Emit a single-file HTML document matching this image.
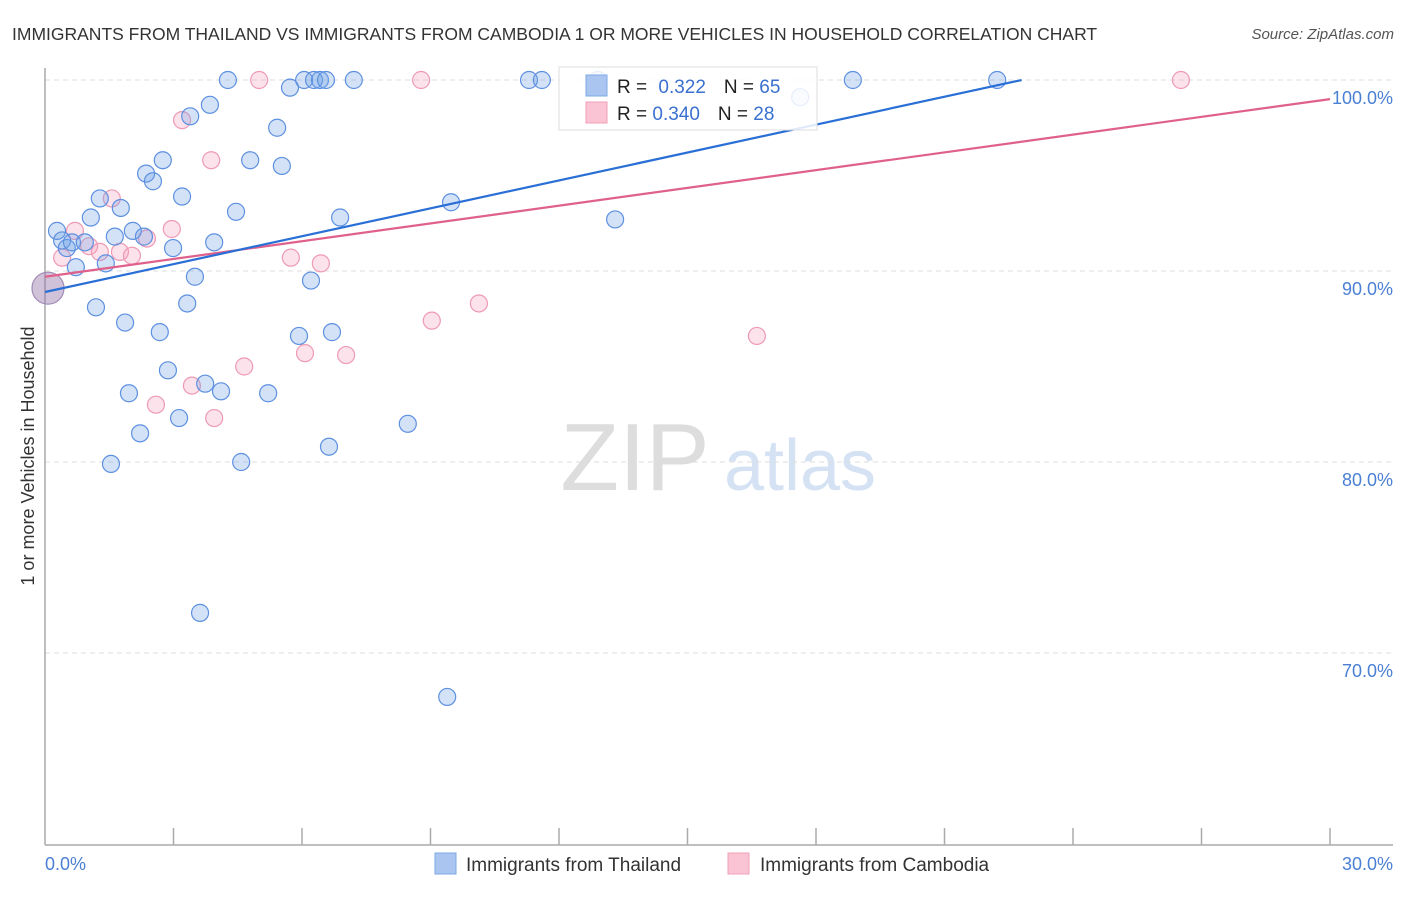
<!DOCTYPE html>
<html><head><meta charset="utf-8"><style>
body{margin:0;background:#fff;font-family:"Liberation Sans",sans-serif;}
svg text{font-family:"Liberation Sans",sans-serif;}
</style></head><body>
<svg width="1406" height="892" xmlns="http://www.w3.org/2000/svg">
<text x="12" y="40" font-size="17.5" fill="#333">IMMIGRANTS FROM THAILAND VS IMMIGRANTS FROM CAMBODIA 1 OR MORE VEHICLES IN HOUSEHOLD CORRELATION CHART</text>
<text x="1394" y="39" font-size="15" fill="#555" text-anchor="end" font-style="italic">Source: ZipAtlas.com</text>
<g>
<text x="635" y="490" font-size="96" fill="#ddd" text-anchor="middle" font-family="Liberation Serif,serif">ZIP</text>
<text x="800" y="490" font-size="72" fill="#d4e2f4" text-anchor="middle">atlas</text>
</g>
<g id="grid"></g>
<line x1="45" y1="68" x2="45" y2="845" stroke="#aaa" stroke-width="1.5"/>
<line x1="45" y1="845" x2="1393" y2="845" stroke="#aaa" stroke-width="1.5"/>
<g id="xticks"></g>
<text x="45" y="870" font-size="18" fill="#4a7fd4">0.0%</text>
<text x="1393" y="870" font-size="18" fill="#4a7fd4" text-anchor="end">30.0%</text>
<text transform="translate(34,456) rotate(-90)" font-size="18" fill="#333" text-anchor="middle">1 or more Vehicles in Household</text>
<g id="pts"></g>
<g id="lines"></g>
<g>
<rect x="559" y="67" width="258" height="63" fill="#fff" fill-opacity="0.85" stroke="#ddd"/>
<rect x="586" y="75" width="21" height="21" fill="#aac6f0" stroke="#7fa8e6"/>
<rect x="586" y="102" width="21" height="21" fill="#fac4d4" stroke="#f0a0b8"/>
<text x="617" y="93" font-size="19" fill="#222">R = <tspan fill="#3a70d0" dx="6">0.322</tspan><tspan dx="18" fill="#222">N = </tspan><tspan fill="#3a70d0">65</tspan></text>
<text x="617" y="120" font-size="19" fill="#222">R = <tspan fill="#3a70d0">0.340</tspan><tspan dx="18" fill="#222">N = </tspan><tspan fill="#3a70d0">28</tspan></text>
</g>
<g>
<rect x="435" y="853" width="21" height="21" fill="#aac6f0" stroke="#7fa8e6"/>
<text x="466" y="871" font-size="19" fill="#333">Immigrants from Thailand</text>
<rect x="728" y="853" width="21" height="21" fill="#fac4d4" stroke="#f0a0b8"/>
<text x="760" y="871" font-size="19" fill="#333">Immigrants from Cambodia</text>
</g>
</svg>
<script>
const yTicks=[100,90,80,70];
const yTickLabels=["100.0%","90.0%","80.0%","70.0%"];
const xTickVals=[3,6,9,12,15,18,21,24,27,30];
const thX=[0.28,0.40,0.51,0.63,0.72,0.93,1.07,1.19,1.28,1.42,1.54,1.63,1.77,1.87,1.96,2.05,2.22,2.36,2.31,2.52,2.68,2.75,2.87,2.99,3.13,3.20,3.32,3.39,3.50,3.62,3.74,3.85,3.95,4.11,4.27,4.46,4.58,4.79,5.21,5.42,5.53,5.72,5.93,6.05,6.21,6.28,6.42,6.56,6.63,6.70,6.89,7.21,8.47,9.39,9.48,11.30,11.60,12.91,13.31,17.63,18.86,22.23];
const thY=[92.1,91.6,91.2,91.5,90.2,91.5,92.8,88.1,93.8,90.4,79.9,91.8,93.3,87.3,83.6,92.1,81.5,95.1,91.8,94.7,86.8,95.8,84.8,91.2,82.3,93.9,88.3,98.1,89.7,72.1,84.1,98.7,91.5,83.7,100,93.1,80.0,95.8,83.6,97.5,95.5,99.6,86.6,100,89.5,100,100,100,80.8,86.8,92.8,100,82.0,67.7,93.6,100,100,100,92.7,99.1,100,100];
const caX=[0.40,0.70,1.03,1.28,1.56,1.75,2.03,2.38,2.59,2.96,3.20,3.43,3.88,3.95,4.65,5.00,5.74,6.07,6.44,7.03,8.78,9.03,10.13,16.62,26.52];
const caY=[90.7,92.1,91.3,91.0,93.8,91.0,90.8,91.7,83.0,92.2,97.9,84.0,95.8,82.3,85.0,100,90.7,85.7,90.4,85.6,100,87.4,88.3,86.6,100];
const bigX=[0.07];
const bigY=[89.1];
const thLine=[88.9,0.4868];   // intercept, slope
const caLine=[89.7,0.31];
const NS="http://www.w3.org/2000/svg";
const X=v=>45+v*1285/30;
const Y=v=>80+(100-v)*19.1;
function mk(tag,attrs,parent){const e=document.createElementNS(NS,tag);for(const k in attrs)e.setAttribute(k,attrs[k]);document.getElementById(parent).appendChild(e);return e;}
yTicks.forEach((t,i)=>{
 const l=mk('line',{x1:45,x2:1393,y1:Y(t),y2:Y(t),stroke:'#ddd','stroke-dasharray':'5,4'},'grid');
 
 
 const tx=mk('text',{x:1393,y:Y(t)+24,'font-size':18,fill:'#4a7fd4','text-anchor':'end'},'grid');
 tx.textContent=yTickLabels[i];
 
 
});
xTickVals.forEach(v=>{
 const l=mk('line',{x1:X(v),x2:X(v),y1:828,y2:845,stroke:'#aaa','stroke-width':1.5},'xticks');
 
 
});
function dot(x,y,r,fill,stroke,name){
 const c=mk('circle',{cx:X(x),cy:Y(y),r:r,fill:fill,stroke:stroke,'stroke-width':1.2},'pts');
 
 
}
caX.forEach((x,i)=>dot(x,caY[i],8.5,'rgba(246,160,190,0.3)','#ee9ab4','cambodia-point'));
thX.forEach((x,i)=>dot(x,thY[i],8.5,'rgba(110,160,230,0.3)','#5d90e0','thailand-point'));
bigX.forEach((x,i)=>dot(x,bigY[i],16,'rgba(150,120,170,0.45)','#a08ab8','overlap-point'));
function trend(p,x0,x1,color,name){
 const l=mk('line',{x1:X(x0),y1:Y(p[0]+p[1]*x0),x2:X(x1),y2:Y(p[0]+p[1]*x1),stroke:color,'stroke-width':2.2},'lines');
 
 
}
trend(caLine,0,30,'#e0608c','cambodia-trendline');
trend(thLine,0,22.8,'#2a6fd6','thailand-trendline');
</script>
</body></html>
